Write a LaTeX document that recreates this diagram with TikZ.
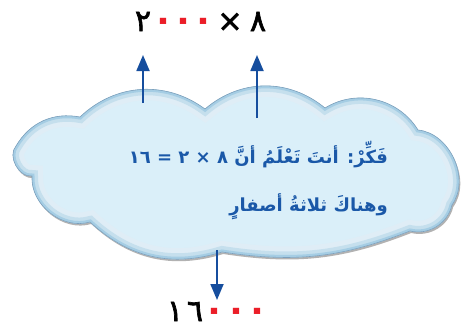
\documentclass[tikz,border=0pt]{standalone}
\usepackage{fontspec}
\newfontfamily\arabicfont[Script=Arabic]{DejaVu Sans}
\newfontfamily\digitfont[Script=Arabic,FakeBold=2.2]{DejaVu Sans}
\TeXXeTstate=1
\usetikzlibrary{arrows.meta}
\definecolor{arrowblue}{RGB}{22,78,158}
\definecolor{textblue}{RGB}{26,88,168}
\definecolor{cloudfill}{RGB}{218,239,249}
\definecolor{cloudedge}{RGB}{165,205,228}
\definecolor{cloudline}{RGB}{125,160,188}
\definecolor{zerored}{RGB}{235,30,40}
\begin{document}
\begin{tikzpicture}[x=1pt,y=-1pt,
  arr/.style={draw=arrowblue, line width=1.8pt, -{Triangle[width=13pt,length=16pt]}},
  digit/.style={font=\digitfont\fontsize{30}{32}\selectfont, inner sep=0pt, anchor=base},
  zero/.style={digit, text=zerored, font=\arabicfont\bfseries\fontsize{36}{38}\selectfont},
  thinktext/.style={font=\arabicfont\bfseries\fontsize{18}{20}\selectfont, text=textblue, inner sep=0pt, anchor=base east}]
\useasboundingbox (0,0) rectangle (465,327);
% cloud
\path[save path=\cloudp]
  (16,146) to[bend left=35] (80,117)
  to[bend left=40] (205,109)
  to[bend left=40] (325,108)
  to[bend left=45] (418,130)
  to[bend left=60] (452,205)
  to[bend left=45] (410,231)
  to[bend left=15] (222,252)
  to[bend left=30] (90,222)
  to[bend left=55] (32,176)
  to[bend left=70] (16,146) -- cycle;
\begin{scope}[transform canvas={shift={(1.2pt,-2pt)}}]
  \path[use path=\cloudp, fill=black!30];
\end{scope}
\path[use path=\cloudp, fill=cloudfill];
\begin{scope}
  \clip[use path=\cloudp];
  \path[use path=\cloudp, draw=cloudedge!35, line width=22pt];
  \path[use path=\cloudp, draw=cloudedge!65, line width=12pt];
  \path[use path=\cloudp, draw=cloudedge, line width=5pt];
\end{scope}
\path[use path=\cloudp, draw=cloudline, line width=0.6pt];
% text in cloud
\node[thinktext] (l1) at (388,163) {\beginR فَكِّرْ: أنتَ تَعْلَمُ أنَّ ٨ × ٢ = \beginL ١٦\endL{}\endR};
\node[thinktext] (l2) at (388,211) {\beginR وهناكَ ثلاثةُ أصفارٍ\endR};
% top numbers
\node[digit] (t2) at (143,31) {٢};
\node[zero] (tz1) at (163,31) {٠};
\node[zero] (tz2) at (183,31) {٠};
\node[zero] (tz3) at (203,31) {٠};
\node[digit] (tx) at (230,31) {×};
\node[digit] (t8) at (258,31) {٨};
% bottom numbers
\node[digit] (b1) at (175,321) {١};
\node[digit] (b6) at (195,321) {٦};
\node[zero] (bz1) at (214,321) {٠};
\node[zero] (bz2) at (236,321) {٠};
\node[zero] (bz3) at (257,321) {٠};
% arrows
\coordinate (a1s) at (143,103);
\coordinate (a1e) at (143,55);
\coordinate (a2s) at (257,118);
\coordinate (a2e) at (257,55);
\coordinate (a3s) at (217,250);
\coordinate (a3e) at (217,300);
\draw[arr] (a1s) -- (a1e);
\draw[arr] (a2s) -- (a2e);
\draw[arr] (a3s) -- (a3e);
\end{tikzpicture}
\end{document}
